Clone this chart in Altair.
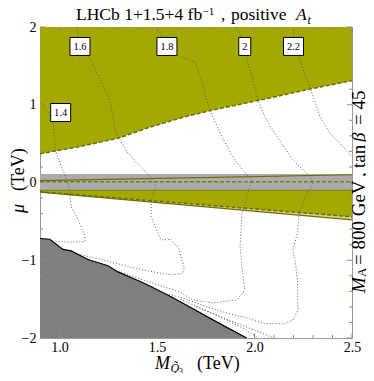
import altair as alt
import pandas as pd

# ---------------- data ----------------
x_domain = [0.9, 2.5]
y_domain = [-2.0, 2.0]

# upper excluded (olive) region: lower boundary
top_M = [0.90, 1.10, 1.30, 1.45, 1.62, 1.78, 2.03, 2.28, 2.50]
top_mu = [0.37, 0.46, 0.57, 0.70, 0.83, 0.93, 1.06, 1.20, 1.31]

# grey band around mu = 0
band_M = [0.90, 2.50]
band_lo = [-0.10, -0.10]
band_hi = [0.11, 0.11]
band_line_mu = [0.025, 0.10]
band_dash_mu = [0.01, 0.01]

# lower olive wedge
wedge_M = [0.90, 2.50]
wedge_top = [-0.10, -0.10]
wedge_dash = [-0.12, -0.44]
wedge_edge = [-0.125, -0.48]

# dark grey region (bottom-left)
excl_M = [0.90, 0.95, 1.018, 1.06, 1.146, 1.249, 1.30, 1.437, 1.573, 1.71, 1.789, 1.96]
excl_mu = [-0.72, -0.73, -0.86, -0.88, -0.99, -1.07, -1.15, -1.30, -1.47, -1.66, -1.77, -2.0]

# dotted contours
c14_M = [0.90, 0.935, 0.967, 0.982, 1.01, 1.044, 1.06, 1.095, 1.13, 1.13, 1.05, 0.96]
c14_mu = [1.02, 0.93, 0.78, 0.39, 0.20, 0.0, -0.31, -0.48, -0.68, -0.76, -0.77, -0.75]
c16_M = [1.09, 1.10, 1.146, 1.208, 1.259, 1.285, 1.30, 1.35, 1.47, 1.495, 1.47, 1.47,
         1.52, 1.57, 1.61, 1.64, 1.63, 1.57, 1.40, 1.23, 1.11]
c16_mu = [2.0, 1.75, 1.64, 1.32, 1.06, 0.70, 0.59, 0.38, 0.06, -0.06, -0.23, -0.44,
          -0.74, -0.73, -0.84, -1.10, -1.17, -1.19, -1.11, -1.00, -0.93]
c18_M = [1.50, 1.551, 1.62, 1.695, 1.735, 1.77, 1.84, 1.90, 1.96, 1.987, 1.967, 1.936,
         1.926, 1.941, 1.951, 1.91, 1.787, 1.685, 1.618, 1.45, 1.29]
c18_mu = [2.0, 1.75, 1.62, 1.55, 1.25, 0.93, 0.55, 0.29, 0.10, 0.03, -0.135, -0.39,
          -0.83, -1.215, -1.38, -1.51, -1.55, -1.51, -1.41, -1.27, -1.13]
c20_M = [1.91, 1.95, 1.965, 2.018, 2.054, 2.115, 2.197, 2.285, 2.30, 2.27, 2.23, 2.22,
         2.197, 2.21, 2.22, 2.223, 2.197, 2.146, 2.044, 1.96, 1.86, 1.756, 1.65, 1.55]
c20_mu = [2.0, 1.75, 1.56, 1.06, 0.84, 0.59, 0.29, 0.07, 0.0, -0.14, -0.39, -0.65,
          -0.87, -1.04, -1.25, -1.64, -1.77, -1.82, -1.81, -1.74, -1.68, -1.60, -1.50, -1.43]
c22_M = [2.20, 2.20, 2.233, 2.269, 2.295, 2.336, 2.387, 2.454, 2.50]
c22_mu = [2.0, 1.75, 1.58, 1.32, 1.15, 0.84, 0.63, 0.46, 0.33]
e1_M = [1.62, 1.80, 1.93, 2.02]
e1_mu = [-1.50, -1.70, -1.86, -2.0]
e2_M = [1.70, 1.85, 1.98, 2.10]
e2_mu = [-1.60, -1.75, -1.88, -2.0]

label_text = ["1.4", "1.6", "1.8", "2", "2.2"]
label_M = [1.006, 1.105, 1.551, 1.95, 2.20]
label_mu = [0.90, 1.75, 1.75, 1.75, 1.75]

x_major = [1.0, 1.5, 2.0, 2.5]
x_minor = [1.1, 1.2, 1.3, 1.4, 1.6, 1.7, 1.8, 1.9, 2.1, 2.2, 2.3, 2.4]
y_major = [-2, -1, 0, 1, 2]
y_minor = [-1.8, -1.6, -1.4, -1.2, -0.8, -0.6, -0.4, -0.2,
           0.2, 0.4, 0.6, 0.8, 1.2, 1.4, 1.6, 1.8]

# ---------------- style ----------------
W, H = 312, 311
SERIF = "Liberation Serif"
OLIVE = "#A5A800"
OLIVE_DARK = "#6B6D00"
LIGHT = "#D3D68A"
BAND = "#ABABAB"
EXCL = "#7F7F7F"
TICK = "#8C8C8C"

xs = alt.Scale(domain=x_domain, nice=False, zero=False)
ys = alt.Scale(domain=y_domain, nice=False, zero=False)
X = alt.X("M:Q", scale=xs, axis=alt.Axis(values=x_major, format=".1f", title=None, tickSize=0,
                                          domain=False, grid=False, labelFont=SERIF,
                                          labelFontSize=14, labelPadding=2, labelColor="black",
                                          labelFlush=False))
Y = alt.Y("mu:Q", scale=ys, axis=alt.Axis(values=y_major, format="d", title=None, tickSize=0,
                                           domain=False, grid=False, labelFont=SERIF,
                                           labelFontSize=14, labelPadding=4, labelColor="black",
                                           labelFlush=False))

top_df = pd.DataFrame({"M": top_M, "mu": top_mu, "top": [2.0] * len(top_M)})
band_df = pd.DataFrame({"M": band_M, "mu": band_lo, "hi": band_hi,
                        "line": band_line_mu, "dash": band_dash_mu})
wedge_df = pd.DataFrame({"M": wedge_M, "mu": wedge_top, "dash": wedge_dash, "edge": wedge_edge})
excl_df = pd.DataFrame({"M": excl_M, "mu": excl_mu, "bot": [-2.0] * len(excl_M)})

rows = []
for cid, (ms, mus) in {"c14": (c14_M, c14_mu), "c16": (c16_M, c16_mu), "c18": (c18_M, c18_mu),
                       "c20": (c20_M, c20_mu), "c22": (c22_M, c22_mu), "e1": (e1_M, e1_mu),
                       "e2": (e2_M, e2_mu)}.items():
    for i, (m, u) in enumerate(zip(ms, mus)):
        rows.append({"id": cid, "ord": i, "M": m, "mu": u})
cont_df = pd.DataFrame(rows)

BOX3 = "M-1,-0.9L1,-0.9L1,0.9L-1,0.9Z"
BOX1 = "M-0.6,-0.9L0.6,-0.9L0.6,0.9L-0.6,0.9Z"
lab_df = pd.DataFrame({"M": label_M, "mu": label_mu, "t": label_text,
                       "shape": [BOX1 if len(t) == 1 else BOX3 for t in label_text]})

layers = []
layers.append(alt.Chart(top_df).mark_area(color=OLIVE, clip=True).encode(x=X, y=Y, y2="top:Q"))
layers.append(alt.Chart(wedge_df).mark_area(color=LIGHT, clip=True).encode(x=X, y=Y, y2="edge:Q"))
layers.append(alt.Chart(wedge_df).mark_area(color=OLIVE, clip=True).encode(x=X, y=Y, y2="dash:Q"))
layers.append(alt.Chart(band_df).mark_area(color=BAND, clip=True).encode(x=X, y=Y, y2="hi:Q"))
layers.append(alt.Chart(excl_df).mark_area(color=EXCL, clip=True).encode(x=X, y=Y, y2="bot:Q"))

# boundary lines
layers.append(alt.Chart(top_df).mark_line(color=OLIVE_DARK, strokeWidth=1.5, strokeDash=[4, 2],
                                          clip=True).encode(x=X, y=Y))
layers.append(alt.Chart(wedge_df).mark_line(color=OLIVE_DARK, strokeWidth=1.2, clip=True)
              .encode(x=X, y=alt.Y("edge:Q", scale=ys)))
layers.append(alt.Chart(wedge_df).mark_line(color=OLIVE_DARK, strokeWidth=1.5, strokeDash=[4, 2],
                                            clip=True).encode(x=X, y=alt.Y("dash:Q", scale=ys)))
layers.append(alt.Chart(wedge_df).mark_line(color=OLIVE_DARK, strokeWidth=0.8, clip=True)
              .encode(x=X, y=Y))
layers.append(alt.Chart(band_df).mark_line(color=OLIVE_DARK, strokeWidth=1.2, clip=True)
              .encode(x=X, y=alt.Y("line:Q", scale=ys)))
layers.append(alt.Chart(band_df).mark_line(color="#7C7F10", strokeWidth=1.5, strokeDash=[4, 2],
                                           clip=True).encode(x=X, y=alt.Y("dash:Q", scale=ys)))
layers.append(alt.Chart(excl_df).mark_line(color="black", strokeWidth=1.2, clip=True)
              .encode(x=X, y=Y))

# contours
layers.append(alt.Chart(cont_df).mark_line(color="#5E5E5E", strokeWidth=1, strokeDash=[1, 2],
                                           clip=True)
              .encode(x=X, y=Y, detail="id:N", order="ord:Q"))

# labels
layers.append(alt.Chart(lab_df).mark_point(filled=True, fill="white", stroke="black",
                                           strokeWidth=1, opacity=1, size=400)
              .encode(x=X, y=Y, shape=alt.Shape("shape:N", scale=None)))
layers.append(alt.Chart(lab_df).mark_text(font=SERIF, fontSize=10.5, color="black",
                                          baseline="middle", dy=0.5)
              .encode(x=X, y=Y, text="t:N"))

# inward ticks
def xticks(vals, ln):
    d = pd.DataFrame({"M": vals})
    b = alt.Chart(d).mark_rule(color=TICK, strokeWidth=1).encode(
        x=X, y=alt.value(H), y2=alt.value(H - ln))
    t = alt.Chart(d).mark_rule(color=TICK, strokeWidth=1).encode(
        x=X, y=alt.value(0), y2=alt.value(ln))
    return [b, t]

def yticks(vals, ln):
    d = pd.DataFrame({"mu": vals})
    l = alt.Chart(d).mark_rule(color=TICK, strokeWidth=1).encode(
        y=Y, x=alt.value(0), x2=alt.value(ln))
    r = alt.Chart(d).mark_rule(color=TICK, strokeWidth=1).encode(
        y=Y, x=alt.value(W), x2=alt.value(W - ln))
    return [l, r]

layers += xticks(x_major, 5) + xticks(x_minor, 3) + yticks(y_major, 5) + yticks(y_minor, 3)

# text annotations
def txt(s, x, y, size=18, italic=False, angle=0, baseline="alphabetic", align="left"):
    kw = dict(text=s, font=SERIF, fontSize=size, color="black", align=align, baseline=baseline)
    if italic:
        kw["fontStyle"] = "italic"
    if angle:
        kw["angle"] = angle
    return alt.Chart(pd.DataFrame({"a": [0]})).mark_text(**kw).encode(
        x=alt.value(x), y=alt.value(y))

# title
layers += [
    txt("LHCb 1+1.5+4 fb", 36, -7, size=17.5),
    txt("\u22121", 162.5, -12, size=11),
    txt(",", 181, -7, size=17.5),
    txt("positive", 191, -7, size=17.5),
    txt("A", 256, -7, size=17.5, italic=True),
    txt("t", 267.5, -3, size=12, italic=True),
]
# y title
layers += [
    txt("\u03bc", -21, 186, italic=True, angle=270, baseline="middle"),
    txt("(TeV)", -21, 164, angle=270, baseline="middle"),
]
# x title
layers += [
    txt("M", 115, 341.5, size=18, italic=True),
    txt("Q\u0303", 130.5, 345, size=12, italic=True),
    txt("3", 139, 346.5, size=8),
    txt("(TeV)", 157, 341.5, size=18),
]
# right label
layers += [
    txt("M", 319, 266, size=19, italic=True, angle=270, baseline="middle"),
    txt("A", 322, 250, size=13, angle=270, baseline="middle"),
    txt("= 800 GeV", 319, 238, size=19, angle=270, baseline="middle"),
    txt(",", 319, 150, size=19, angle=270, baseline="middle"),
    txt("tan", 319, 141, size=19, angle=270, baseline="middle"),
    txt("\u03b2", 319, 115, size=19, italic=True, angle=270, baseline="middle"),
    txt("= 45", 319, 98, size=19, angle=270, baseline="middle"),
]

chart = alt.layer(*layers).properties(
    width=W, height=H,
    autosize=alt.AutoSizeParams(type="none"),
    padding={"left": 32, "top": 19, "right": 14, "bottom": 35},
).configure_view(stroke="#9A9A9A", strokeWidth=1).configure_axis(labelFont=SERIF)

chart.save("out.html", embed_options={"renderer": "svg", "actions": False})
